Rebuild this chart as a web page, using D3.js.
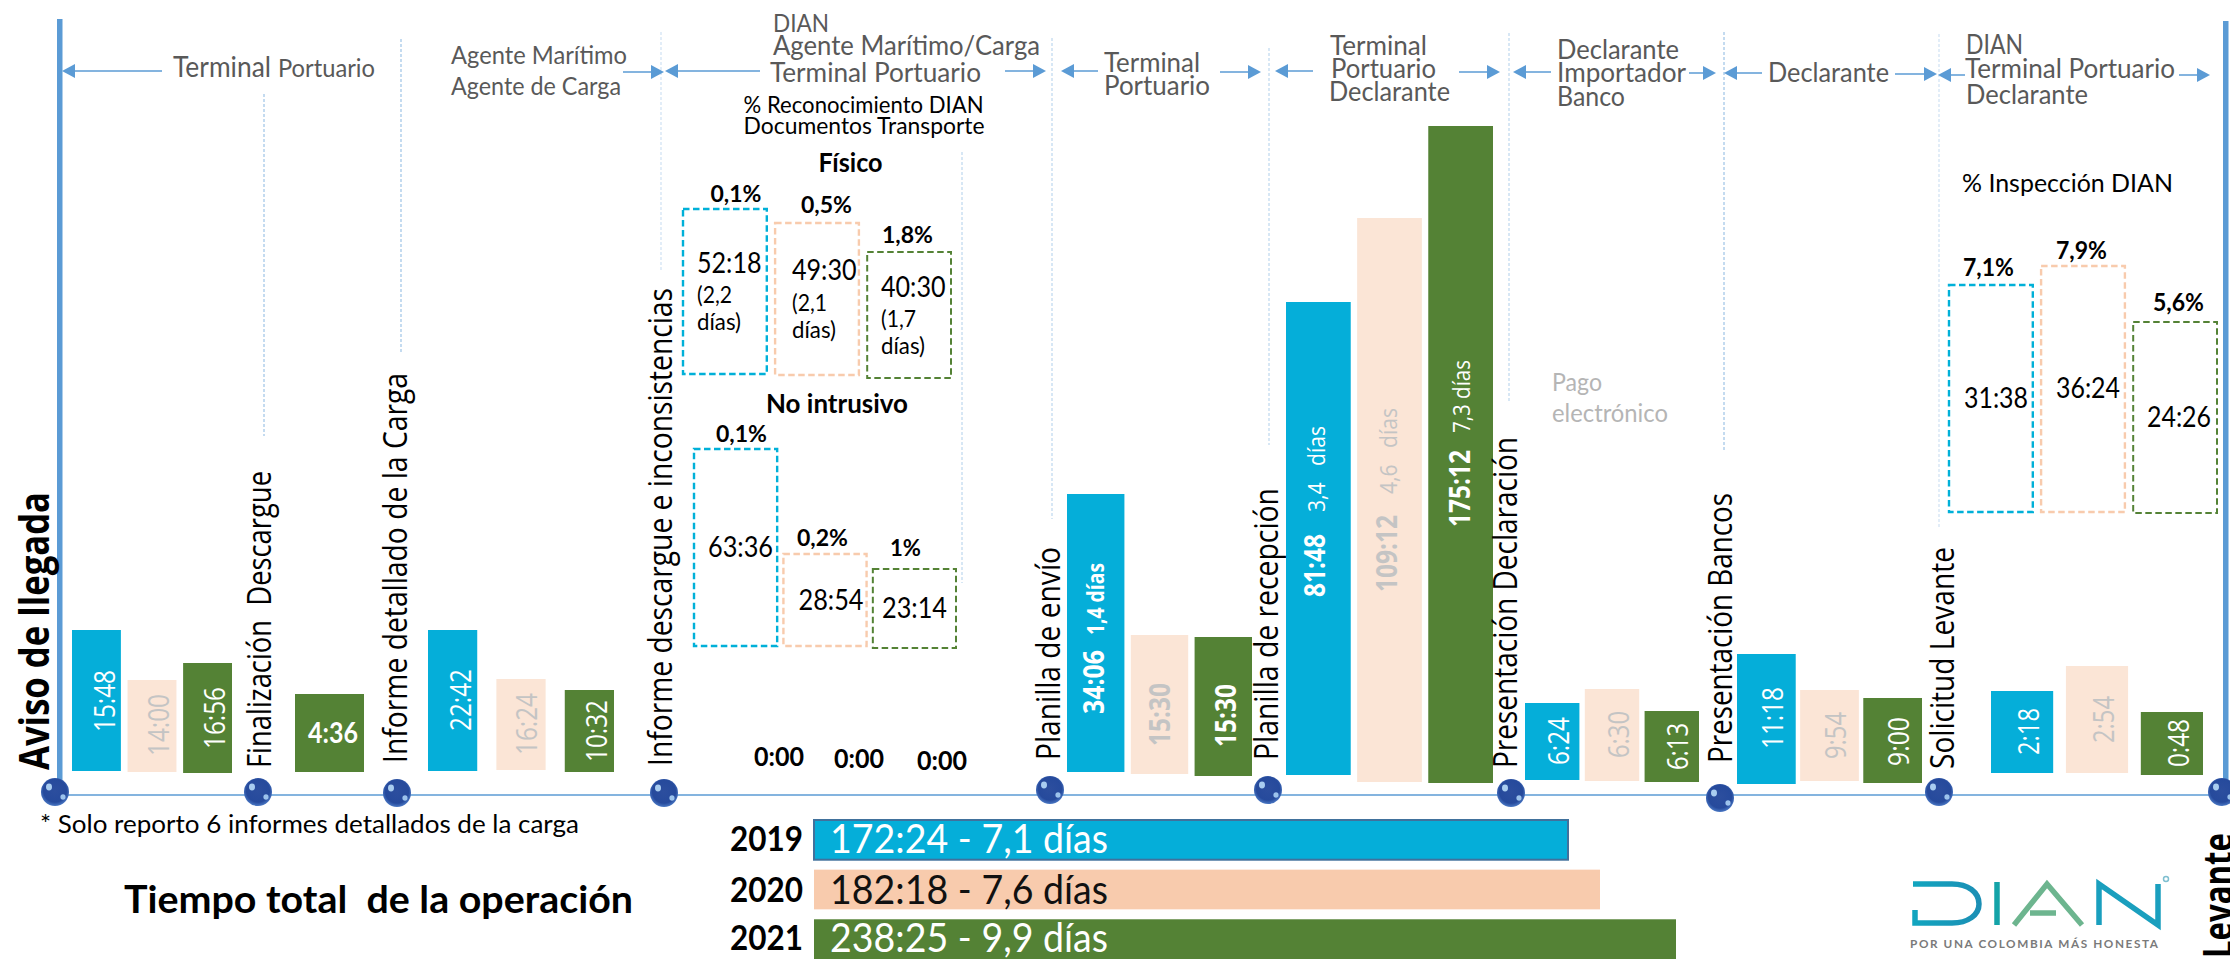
<!DOCTYPE html>
<html lang="es">
<head>
<meta charset="utf-8">
<script src="https://cdn.jsdelivr.net/npm/d3@7"></script>
<style>
html,body{margin:0;padding:0;background:#fff}
svg{display:block}
text{white-space:pre}
</style>
</head>
<body>
<svg id="chart" width="2230" height="960"></svg>
<script>
// ---------- DATA ----------
const years = ['2019', '2020', '2021'];
const stageNames = ['Aviso de llegada', 'Finalización  Descargue', 'Informe detallado de la Carga',
  'Informe descargue e inconsistencias', 'Planilla de envío', 'Planilla de recepción',
  'Presentación Declaración', 'Presentación Bancos', 'Solicitud Levante', 'Levante'];

// time labels of every leg, by year
const times2019 = ['15:48', null, '22:42', null, '34:06', '81:48', '6:24', '11:18', '2:18'];
const times2020 = ['14:00', null, '16:24', null, '15:30', '109:12', '6:30', '9:54', '2:54'];
const times2021 = ['16:56', '4:36', '10:32', null, '15:30', '175:12', '6:13', '9:00', '0:48'];
const emptyLegTimes = ['0:00', '0:00', '0:00'];
const days2019 = [null, null, null, null, '1,4 días', '3,4   días', null, null, null];
const days2020 = [null, null, null, null, null, '4,6   días', null, null, null];
const days2021 = [null, null, null, null, null, '7,3 días', null, null, null];

// drawn bar ends (height above the timeline; the source is hand drawn, not to scale)
const barTop2019 = [165, null, 165, null, 301, 493, 92, 141, 104];
const barTop2020 = [115, null, 116, null, 160, 577, 106, 105, 129];
const barTop2021 = [132, 101, 105, null, 158, 669, 84, 97, 83];
const barFoot2019 = [24, null, 24, null, 23, 20, 15, 11, 22];
const barFoot2020 = [23, null, 25, null, 21, 13, 14, 14, 22];
const barFoot2021 = [22, 23, 23, null, 19, 12, 13, 12, 20];

// dashed boxes
const fisicoPct = ['0,1%', '0,5%', '1,8%'];
const fisicoTimes = ['52:18', '49:30', '40:30'];
const fisicoDays = [['(2,2', 'días)'], ['(2,1', 'días)'], ['(1,7', 'días)']];
const fisicoTop = [586, 572, 543];
const fisicoFoot = [421, 420, 417];
const noIntrusivoPct = ['0,1%', '0,2%', '1%'];
const noIntrusivoTimes = ['63:36', '28:54', '23:14'];
const noIntrusivoTop = [346, 241, 226];
const noIntrusivoFoot = [149, 149, 147];
const inspeccionPct = ['7,1%', '7,9%', '5,6%'];
const inspeccionTimes = ['31:38', '36:24', '24:26'];
const inspeccionTop = [510, 529, 473];
const inspeccionFoot = [283, 283, 282];

// totals
const totalLabels = ['172:24 - 7,1 días', '182:18 - 7,6 días', '238:25 - 9,9 días'];
const totalDrawn = [754, 786, 862];

// ---------- STYLE / LAYOUT ----------
const W = 2230, H = 960, axisY = 795;
const blue = '#05AED9', peach = '#FBE5D6', peachStrong = '#F8CBAD', green = '#548235', line = '#5B9BD5';
const yearFill = [blue, peach, green];
const boxStroke = ['#00B0D8', peachStrong, green];
const labelFill = ['#fff', '#C4C4C4', '#fff'];
const head = '#595959';
const CAL = 'Lato, Carlito, sans-serif', SEG = '"Open Sans", sans-serif';

const svg = d3.select('#chart');
const y = d3.scaleLinear().domain([0, axisY]).range([axisY, 0]);

function txt(g, s, x, yy, fs, w, o = {}) {
  const family = o.family || CAL;
  const size = fs * (family === CAL ? 1.12 : 1.07);
  const t = g.append('text').text(s)
    .attr('font-family', family).attr('font-size', size)
    .attr('font-weight', o.weight || 400).attr('fill', o.fill || '#000');
  if (w) t.attr('textLength', w).attr('lengthAdjust', 'spacingAndGlyphs');
  if (o.rot) t.attr('transform', `translate(${x},${yy}) rotate(-90)`);
  else t.attr('x', x).attr('y', yy);
  return t;
}

// ---- frame
const frame = svg.append('g');
frame.append('rect').attr('x', 57).attr('width', 5.5).attr('y', 19).attr('height', 765).attr('fill', line);
frame.append('rect').attr('x', 2223).attr('width', 5.5).attr('y', 21).attr('height', 760).attr('fill', line);
frame.append('line').attr('x1', 55).attr('x2', 2225).attr('y1', axisY).attr('y2', axisY)
  .attr('stroke', line).attr('stroke-width', 1.5);

// ---- dotted guides: x, top, bottom, colour
const guides = [[264, 94, 436, '#9DC3E6'], [401, 39, 353, '#9DC3E6'], [661, 32, 272, '#CFE2F3'],
  [962, 152, 583, '#BDD7EE'], [1052, 38, 519, '#BDD7EE'], [1269, 48, 445, '#BDD7EE'],
  [1509, 33, 403, '#BDD7EE'], [1724, 32, 450, '#9DC3E6'], [1939, 34, 527, '#CFE2F3']];
svg.append('g').selectAll('line').data(guides).join('line')
  .attr('x1', d => d[0]).attr('x2', d => d[0]).attr('y1', d => d[1]).attr('y2', d => d[2])
  .attr('stroke', d => d[3]).attr('stroke-width', 1.2).attr('stroke-dasharray', '3 2');

// ---- span arrows: tail, tip, y
const arrows = [[162, 62, 71], [623, 664, 72], [760, 665, 71], [1005, 1046, 71], [1098, 1061, 71],
  [1220, 1261, 72], [1313, 1275, 71], [1459, 1500, 72], [1551, 1513, 72], [1689, 1716, 73],
  [1762, 1724, 73], [1895, 1937, 74], [1965, 1938, 75], [2179, 2210, 75]];
const ag = svg.append('g');
arrows.forEach(([a, b, yy]) => {
  const dir = Math.sign(b - a), hl = 13;
  ag.append('line').attr('x1', a).attr('x2', b - dir * hl).attr('y1', yy).attr('y2', yy)
    .attr('stroke', line).attr('stroke-width', 1.5);
  ag.append('path').attr('d', `M${b},${yy}L${b - dir * hl},${yy - 7}L${b - dir * hl},${yy + 7}Z`).attr('fill', line);
});

// ---- bars by leg
const legExtent = [[72, 232, .12], [295, 364, 0], [428, 614, .28], null, [1067, 1252, .1],
  [1286, 1493, .09], [1525, 1699, .09], [1737, 1922, .07], [1991, 2203, .17]];
const timesBy = [times2019, times2020, times2021];
const daysBy = [days2019, days2020, days2021];
const topBy = [barTop2019, barTop2020, barTop2021];
const footBy = [barFoot2019, barFoot2020, barFoot2021];
// label baseline x, start height and length, per leg/year
const labelSpec = {
  '0': [[115, 63, 62], [169, 39, 62], [224.5, 46, 62]],
  '2': [[471, 64, 62], [537, 40, 62], [607, 33, 62]],
  '4': [[1104, 81, 64, 1], [1170, 49, 63, 1], [1236, 48, 63, 1]],
  '5': [[1325, 198, 63, 1], [1397, 203, 77, 1], [1470, 268, 77, 1]],
  '6': [[1569, 30, 48], [1629, 37, 47], [1688, 25, 47]],
  '7': [[1783, 46, 62], [1846, 36, 47], [1909, 29, 49]],
  '8': [[2039, 40, 47], [2114, 52, 47], [2189, 28, 48]]
};
const daysSpec = { '4': [[1104, 160, 72]], '5': [[1325, 283, 86], [1397, 301, 86], [1470, 362, 73]] };

const bars = svg.append('g');
legExtent.forEach((ext, leg) => {
  if (!ext) return;
  const present = years.filter((_, i) => timesBy[i][leg] !== null);
  const x = d3.scaleBand().domain(present).range([ext[0], ext[1]]).paddingInner(ext[2]);
  const rows = present.map(yr => {
    const i = years.indexOf(yr);
    return { yr, i, top: topBy[i][leg], foot: footBy[i][leg], t: timesBy[i][leg], d: daysBy[i][leg] };
  });
  bars.selectAll(null).data(rows).join('rect')
    .attr('x', d => x(d.yr)).attr('width', x.bandwidth())
    .attr('y', d => y(d.top)).attr('height', d => y(d.foot) - y(d.top))
    .attr('fill', d => yearFill[d.i]);
  rows.forEach(d => {
    const spec = labelSpec[leg];
    if (!spec) return;
    const [bx, lift, len, bold] = spec[d.i];
    txt(bars, d.t, bx, y(lift), bold ? 27 : 28, len, { family: SEG, weight: bold ? 700 : 400, fill: labelFill[d.i], rot: true });
    if (d.d) {
      const ds = daysSpec[leg][leg === 5 ? d.i : 0];
      txt(bars, d.d, ds[0], y(ds[1]), 22, ds[2], { family: SEG, weight: leg === 4 ? 700 : 400, fill: labelFill[d.i], rot: true });
    }
  });
});
// the single-bar leg carries a horizontal label
txt(bars, times2021[1], 308, 743, 25, 50, { weight: 700, fill: '#fff' });
// empty leg
const emptyX = [[754, 766], [834, 768], [917, 770]];
emptyLegTimes.forEach((t, i) => txt(svg, t, emptyX[i][0], emptyX[i][1], 24, 50, { weight: 700 }));

// ---- dashed boxes
function boxes(ext, pad, top, foot) {
  const x = d3.scaleBand().domain(years).range(ext).paddingInner(pad);
  svg.append('g').selectAll('rect').data(years).join('rect')
    .attr('x', d => x(d)).attr('width', x.bandwidth())
    .attr('y', (d, i) => y(top[i])).attr('height', (d, i) => y(foot[i]) - y(top[i]))
    .attr('fill', 'none').attr('stroke', (d, i) => boxStroke[i])
    .attr('stroke-width', (d, i) => i === 2 ? 2 : 2.4).attr('stroke-dasharray', '6.5 3.5');
}
boxes([683, 951], .09, fisicoTop, fisicoFoot);
boxes([694, 956], .07, noIntrusivoTop, noIntrusivoFoot);
boxes([1949, 2217], .09, inspeccionTop, inspeccionFoot);

const note = svg.append('g');
[[710.5, 202], [801, 213], [882, 243]].forEach((p, i) => txt(note, fisicoPct[i], p[0], p[1], 21, 51, { weight: 700 }));
[[697, 273], [792, 280], [881, 297]].forEach((p, i) => txt(note, fisicoTimes[i], p[0], p[1], 25, 64.5));
[[697, 303, 330], [792, 311, 338], [881, 327, 354]].forEach((p, i) => {
  txt(note, fisicoDays[i][0], p[0], p[1], 20, 35);
  txt(note, fisicoDays[i][1], p[0], p[2], 20, 44);
});
[[716, 442, 51], [797, 546, 51], [890, 556, 31]].forEach((p, i) => txt(note, noIntrusivoPct[i], p[0], p[1], 21, p[2], { weight: 700 }));
[[708, 557], [798.5, 610], [882, 618]].forEach((p, i) => txt(note, noIntrusivoTimes[i], p[0], p[1], 25, 65));
[[1963, 276], [2056, 259], [2153, 311]].forEach((p, i) => txt(note, inspeccionPct[i], p[0], p[1], 22, 51, { weight: 700 }));
[[1964, 408], [2056, 398], [2147, 427]].forEach((p, i) => txt(note, inspeccionTimes[i], p[0], p[1], 25, 64));

// ---- header texts: string, x, baseline, size, width
const headerTexts = [
  ['Terminal', 173, 77, 25, 98], ['Portuario', 278, 77, 22, 97],
  ['Agente Marítimo', 451, 64, 22, 176], ['Agente de Carga', 451, 95, 22, 170],
  ['DIAN', 773, 32, 23, 56], ['Agente Marítimo/Carga', 773, 55, 24, 267], ['Terminal Portuario', 770, 82, 24, 211],
  ['Terminal', 1104, 72, 24, 96], ['Portuario', 1104, 95, 24, 106],
  ['Terminal', 1330, 55, 24, 97], ['Portuario', 1331, 78, 24, 105], ['Declarante', 1329, 101, 24, 121],
  ['Declarante', 1557, 59, 24, 122], ['Importador', 1557, 82, 24, 129], ['Banco', 1557, 106, 24, 68],
  ['Declarante', 1768, 82, 24, 121],
  ['DIAN', 1966, 54, 24, 57], ['Terminal Portuario', 1965, 78, 24, 210], ['Declarante', 1966, 104, 24, 122]
];
headerTexts.forEach(d => txt(note, d[0], d[1], d[2], d[3], d[4], { fill: head }));
txt(note, 'Pago', 1552, 391, 22, 50, { fill: '#B5B5B5' });
txt(note, 'electrónico', 1552, 422, 22, 116, { fill: '#B5B5B5' });
txt(note, '% Reconocimiento DIAN', 743.6, 113, 21, 240);
txt(note, 'Documentos Transporte', 743.6, 134, 21, 241);
txt(note, 'Físico', 818.6, 172, 23, 64, { weight: 700 });
txt(note, 'No intrusivo', 766, 413, 23, 142, { weight: 700 });
txt(note, '% Inspección DIAN', 1962, 192, 23, 211);

// ---- stage labels and balls
const defs = svg.append('defs');
const rg = defs.append('radialGradient').attr('id', 'ball').attr('cx', '50%').attr('cy', '45%').attr('r', '55%');
rg.append('stop').attr('offset', '0%').attr('stop-color', '#2C4E9E');
rg.append('stop').attr('offset', '75%').attr('stop-color', '#264A9C');
rg.append('stop').attr('offset', '100%').attr('stop-color', '#4A78C4');

// baseline x, start y, length, font size, bold flag
const stageSpec = [[49, 770, 278, 39, 1], [271, 768, 297, 30], [407, 763, 390, 30], [672, 766, 478, 30],
  [1060, 760, 213, 30], [1278, 760, 272, 30], [1517, 768, 331, 30], [1732, 763, 270, 30], [1954, 769, 222, 30], [2233, 958, 125, 39, 1]];
stageNames.forEach((s, i) => {
  const p = stageSpec[i];
  txt(svg, s, p[0], p[1], p[3], p[2], { family: SEG, weight: p[4] ? 700 : 400, rot: true });
});
const ballPos = [[55, 792], [258, 792], [397, 793], [664, 793], [1050, 790], [1268, 790], [1511, 793], [1720, 798], [1939, 792], [2222, 792]];
const balls = svg.append('g').selectAll('g').data(ballPos).join('g').attr('transform', d => `translate(${d[0]},${d[1]})`);
balls.append('ellipse').attr('rx', 14).attr('ry', 14).attr('fill', 'url(#ball)');
balls.append('ellipse').attr('cx', -6).attr('cy', -5).attr('rx', 3).attr('ry', 3.4).attr('fill', '#A9CDF0');
balls.append('ellipse').attr('cx', 8).attr('cy', 5).attr('rx', 2.6).attr('ry', 2.8).attr('fill', '#9CC3EC');

// ---- totals
txt(svg, '* Solo reporto 6 informes detallados de la carga', 40, 833, 23, 539);
txt(svg, 'Tiempo total  de la operación', 124, 913, 34, 509, { weight: 700 });
const totalX = d3.scaleLinear().domain([0, d3.max(totalDrawn)]).range([814, 1676]);
const totalY = d3.scaleBand().domain(years).range([820, 959]).paddingInner(.2);
const totals = svg.append('g');
totals.selectAll('rect').data(years).join('rect')
  .attr('x', totalX(0)).attr('y', d => totalY(d))
  .attr('width', (d, i) => totalX(totalDrawn[i]) - totalX(0)).attr('height', totalY.bandwidth())
  .attr('fill', (d, i) => [blue, peachStrong, green][i])
  .attr('stroke', (d, i) => i === 0 ? '#41719C' : 'none').attr('stroke-width', 2);
[851, 902, 950].forEach((b, i) => txt(totals, years[i], 730, b, 30, 73, { weight: 700 }));
[853, 904, 952].forEach((b, i) => txt(totals, totalLabels[i], 830, b, 36, 278, { fill: i === 1 ? '#111' : '#fff' }));

// ---- DIAN logo
const lg = defs.append('linearGradient').attr('id', 'dianD').attr('x1', 0).attr('x2', 1).attr('y1', 0).attr('y2', 0);
lg.append('stop').attr('offset', '0%').attr('stop-color', '#12A5BF');
lg.append('stop').attr('offset', '100%').attr('stop-color', '#1B8FB5');
const logo = svg.append('g').attr('fill', 'none').attr('stroke-width', 5.5);
logo.append('path').attr('stroke', 'url(#dianD)')
  .attr('d', 'M1913,884H1952C1968,884 1979,892 1979,904C1979,915 1968,923 1952,923H1915V910');
logo.append('path').attr('stroke', '#14A3A8').attr('d', 'M1997,882V925');
logo.append('path').attr('stroke', '#6DB58F').attr('d', 'M2014,925L2047,884L2082,925M2030,913H2056');
logo.append('path').attr('stroke', '#1A9FBE').attr('d', 'M2099,925V884L2158,925V884');
logo.append('circle').attr('cx', 2166).attr('cy', 879).attr('r', 2.5).attr('stroke', '#7FBFD0').attr('stroke-width', 1.5);
txt(svg, 'POR UNA COLOMBIA MÁS HONESTA', 1910, 948, 10.5, 248, { weight: 700, fill: '#7A7A7A' }).attr('lengthAdjust', 'spacing');
</script>
</body>
</html>
